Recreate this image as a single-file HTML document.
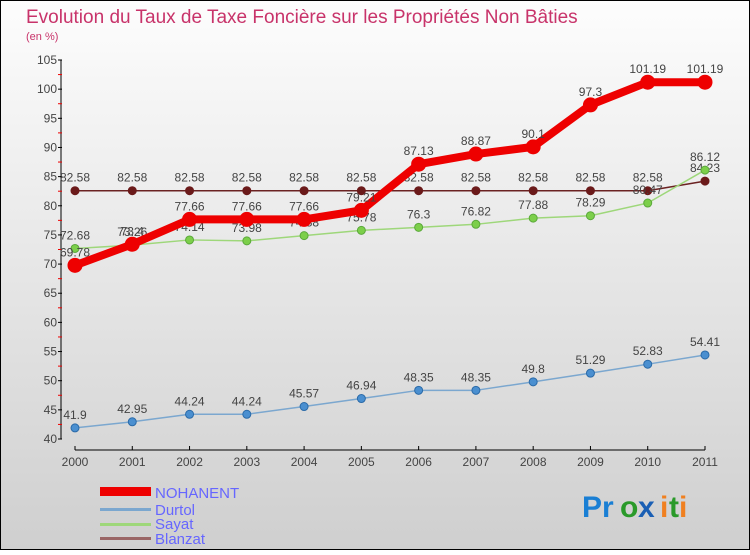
<!DOCTYPE html>
<html><head><meta charset="utf-8"><style>
html,body{margin:0;padding:0}
body{width:750px;height:550px;overflow:hidden;font-family:"Liberation Sans",sans-serif}
</style></head><body>
<svg width="750" height="550" xmlns="http://www.w3.org/2000/svg" id="svg">
<defs><linearGradient id="bg" x1="0" y1="0" x2="0" y2="1"><stop offset="0" stop-color="#fdfdfd"/><stop offset="1" stop-color="#cfcfcf"/></linearGradient></defs>
<rect x="0.5" y="0.5" width="749" height="549" fill="url(#bg)" stroke="#000"/>
<text x="26" y="23" font-size="19" fill="#c8336a">Evolution du Taux de Taxe Foncière sur les Propriétés Non Bâties</text>
<text x="26" y="40" font-size="11" fill="#c8336a">(en %)</text>
<g id="axes"></g><g id="series"></g>
<g font-size="15" fill="#6666ff">
<rect x="100" y="487" width="51" height="9" fill="#e00"/><text x="155" y="498">NOHANENT</text>
<rect x="100" y="508" width="51" height="3" fill="#7ba7cf"/><text x="155" y="515">Durtol</text>
<rect x="100" y="523" width="51" height="3" fill="#9ed77a"/><text x="155" y="529">Sayat</text>
<rect x="100" y="537" width="51" height="3" fill="#9a6666"/><text x="155" y="544">Blanzat</text>
</g>
<g font-size="30" font-weight="bold">
<text x="582" y="517" fill="#1a7fd4">Pr</text><text x="620" y="517" fill="#2a9a2a">o</text><text x="638" y="517" fill="#1a5fb4">x</text><text x="660" y="517" fill="#f08020">i</text><text x="669" y="517" fill="#2a9a2a">t</text><text x="679" y="517" fill="#f08020">i</text>
</g>
</svg>
<script>
const years=["2000","2001","2002","2003","2004","2005","2006","2007","2008","2009","2010","2011"];
const yTicks=[40,45,50,55,60,65,70,75,80,85,90,95,100,105];
const nohanent=[69.78,73.4,77.66,77.66,77.66,79.21,87.13,88.87,90.1,97.3,101.19,101.19];
const durtol=[41.9,42.95,44.24,44.24,45.57,46.94,48.35,48.35,49.8,51.29,52.83,54.41];
const sayat=[72.68,73.26,74.14,73.98,74.88,75.78,76.3,76.82,77.88,78.29,80.47,86.12];
const blanzat=[82.58,82.58,82.58,82.58,82.58,82.58,82.58,82.58,82.58,82.58,82.58,84.23];
const NS="http://www.w3.org/2000/svg";
const xS=i=>75+i*(630/11);
const yS=v=>439-(v-40)*(379/65);
function mk(t,a,p){const e=document.createElementNS(NS,t);for(const k in a)e.setAttribute(k,a[k]);p.appendChild(e);return e;}
const ax=document.getElementById('axes');
const yl=mk('line',{x1:61,y1:yS(105),x2:61,y2:yS(40),stroke:'#000'},ax);


yTicks.forEach(v=>{const y=yS(v);mk('line',{x1:58,y1:y,x2:62,y2:y,stroke:'#000'},ax);
 if(v<105)mk('line',{x1:58,y1:yS(v+2.5),x2:62,y2:yS(v+2.5),stroke:'#e00'},ax);
 const t=mk('text',{x:57,y:y+4,'text-anchor':'end','font-size':12,fill:'#444'},ax);t.textContent=v;
 
 });
const xl=mk('line',{x1:75,y1:450,x2:705,y2:450,stroke:'#000'},ax);


years.forEach((yr,i)=>{const x=xS(i);mk('line',{x1:x,y1:446,x2:x,y2:450,stroke:'#000'},ax);
 const t=mk('text',{x:x,y:466,'text-anchor':'middle','font-size':12,fill:'#444'},ax);t.textContent=yr;
 
 });
const sg=document.getElementById('series');
function draw(name,vals,color,w,r,dot,lc){
 const g=mk('g',{},sg);
 
 
 mk('polyline',{points:vals.map((v,i)=>xS(i)+','+yS(v)).join(' '),fill:'none',stroke:color,'stroke-width':w,'stroke-linejoin':'round'},g);
 vals.forEach((v,i)=>{const c=mk('circle',{cx:xS(i),cy:yS(v),r:r,fill:dot,stroke:lc,'stroke-width':1},g);
  
  
  const t=mk('text',{x:xS(i),y:yS(v)-9,'text-anchor':'middle','font-size':12,fill:'#444'},g);t.textContent=v;
  
  });
}
draw('blanzat',blanzat,'#6b2222',1.5,4,'#6b1a1a','#6b1a1a');
draw('durtol',durtol,'#7ba7cf',1.5,4,'#4a8fd0','#2a6aa8');
draw('sayat',sayat,'#9ed77a',1.5,4,'#7ccf4a','#5aa83a');
draw('nohanent',nohanent,'#e00',8,7,'#e00','#e00');
</script>
</body></html>
